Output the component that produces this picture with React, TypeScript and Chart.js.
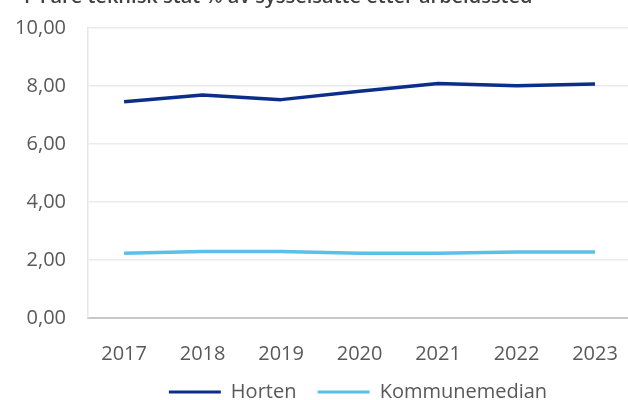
import React, { useEffect, useRef } from "react";
import { Chart, registerables } from "chart.js";

Chart.register(...registerables);

const titleText = "F  Fare teknisk stat % av sysselsatte etter arbeidssted";
const years = [2017, 2018, 2019, 2020, 2021, 2022, 2023];
const horten = [7.46, 7.69, 7.53, 7.82, 8.09, 8.01, 8.07];
const kommunemedian = [2.23, 2.29, 2.29, 2.23, 2.23, 2.28, 2.28];
const yTicks = [0, 2, 4, 6, 8, 10];

const FONT = "'Open Sans', 'Noto Sans', sans-serif";
const TEXT = "#595959";

export default function App() {
  const ref = useRef<HTMLCanvasElement | null>(null);

  useEffect(() => {
    if (!ref.current) return;
    const chart = new Chart(ref.current, {
      type: "line",
      data: {
        datasets: [
          {
            label: "Horten",
            data: years.map((y, i) => ({ x: y, y: horten[i] })),
            borderColor: "#0b2f88",
            backgroundColor: "#0b2f88",
            borderWidth: 3.5,
            pointRadius: 0,
            tension: 0,
            borderJoinStyle: "round",
          },
          {
            label: "Kommunemedian",
            data: years.map((y, i) => ({ x: y, y: kommunemedian[i] })),
            borderColor: "#5bc0e8",
            backgroundColor: "#5bc0e8",
            borderWidth: 3.5,
            pointRadius: 0,
            tension: 0,
            borderJoinStyle: "round",
          },
        ],
      },
      options: {
        responsive: false,
        animation: false,
        layout: { padding: { top: 28, right: 0, left: 0, bottom: 0 } },
        plugins: {
          tooltip: { enabled: false },
          title: { display: false },
          legend: {
            position: "bottom",
            fullSize: false,
            maxHeight: 34,
            labels: {
              font: { family: FONT, size: 20 },
              color: TEXT,
              boxWidth: 52,
              boxHeight: 3,
              padding: 16,
              generateLabels: (c: any) => {
                const items = (Chart.defaults.plugins.legend.labels as any).generateLabels(c);
                return items.map((l: any, i: number) => ({
                  ...l,
                  text: i < items.length - 1 ? l.text + " " : l.text,
                  lineWidth: 0,
                  fillStyle: l.strokeStyle,
                }));
              },
            },
          },
        },
        scales: {
          x: {
            type: "linear",
            min: 2016.54,
            max: 2023.42,
            afterBuildTicks: (s: any) => {
              s.ticks = years.map((v) => ({ value: v }));
            },
            grid: {
              display: false,
              drawTicks: true,
              tickLength: 24,
              tickColor: "rgba(0,0,0,0)",
            },
            border: { display: true, color: "#c8c8c8", width: 2 },
            ticks: {
              font: { family: FONT, size: 20 },
              color: TEXT,
              padding: 0,
              autoSkip: false,
              maxRotation: 0,
              callback: (v: any) => String(v),
            },
          },
          y: {
            type: "linear",
            min: 0,
            max: 10,
            afterBuildTicks: (s: any) => {
              s.ticks = yTicks.map((v) => ({ value: v }));
            },
            afterFit: (s: any) => {
              s.width = 88;
            },
            grid: {
              color: "#ebebeb",
              lineWidth: 1.5,
              drawTicks: true,
              tickLength: 22,
              tickColor: "rgba(0,0,0,0)",
            },
            border: { display: true, color: "#e6e6e6", width: 1.5 },
            ticks: {
              font: { family: FONT, size: 20 },
              color: TEXT,
              padding: 0,
              callback: (v: any) => Number(v).toFixed(2).replace(".", ","),
            },
          },
        },
      },
    });
    return () => chart.destroy();
  }, []);

  return (
    <div
      style={{
        position: "fixed",
        left: 0,
        top: 0,
        width: 628,
        height: 400,
        overflow: "hidden",
        background: "#fff",
      }}
    >
      <div
        style={{
          position: "absolute",
          top: -18,
          left: 24,
          font: `600 20px ${FONT}`,
          color: "#404040",
          whiteSpace: "nowrap",
        }}
      >
        {titleText}
      </div>
      <canvas ref={ref} width={628} height={400} style={{ display: "block" }} />
    </div>
  );
}
